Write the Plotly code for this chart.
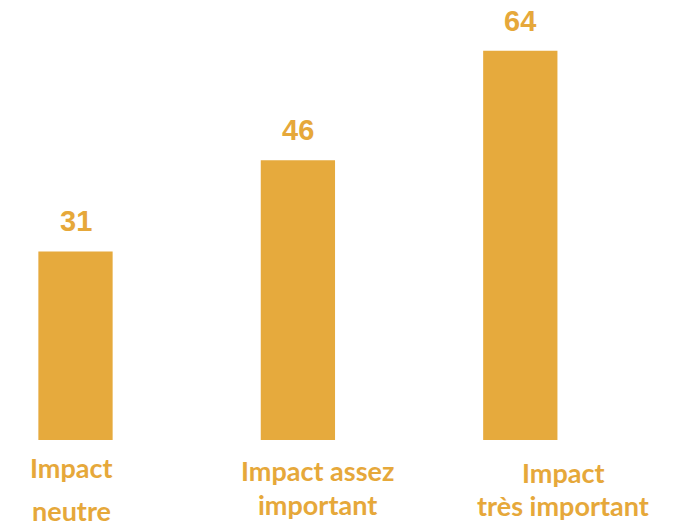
import plotly.graph_objects as go

categories = ["Impact\nneutre", "Impact assez\nimportant", "Impact\ntrès important"]
values = [31, 46, 64]

BAR = "#E6AA3D"
TXT = "#E6A83A"

# per-label horizontal offsets (px) and line vertical offsets (px below bar base)
label_dx = [-4, 20, 43]
label_dy = [[-27, -70], [-30, -64], [-32, -65]]

x = list(range(len(values)))
fig = go.Figure(go.Bar(x=x, y=values, width=0.334, marker=dict(color=BAR, line=dict(width=0)),
                       hoverinfo="skip"))

ann = []
for i, v in enumerate(values):
    ann.append(dict(x=i, y=v, xref="x", yref="y", text=str(v), showarrow=False,
                    yanchor="middle", xanchor="center", yshift=30,
                    font=dict(family="Liberation Sans, Arial", size=29, color=TXT, weight="bold")))
    for j, line in enumerate(categories[i].split("\n")):
        ann.append(dict(x=i, y=0, xref="x", yref="y", text=line, showarrow=False,
                        yanchor="middle", xanchor="center", xshift=label_dx[i], yshift=label_dy[i][j],
                        font=dict(family="Lato", size=27, color=TXT, weight="bold")))

# page body has an 8px default margin, so the figure is 8px smaller and shifted
fig.update_layout(
    width=669, height=514, margin=dict(l=0, r=0, t=0, b=0),
    paper_bgcolor="white", plot_bgcolor="white", showlegend=False,
    xaxis=dict(range=[-0.3035, 2.7046], visible=False, fixedrange=True),
    yaxis=dict(range=[-13.48, 71.02], visible=False, fixedrange=True),
    annotations=ann,
)
fig.write_html("out.html")
